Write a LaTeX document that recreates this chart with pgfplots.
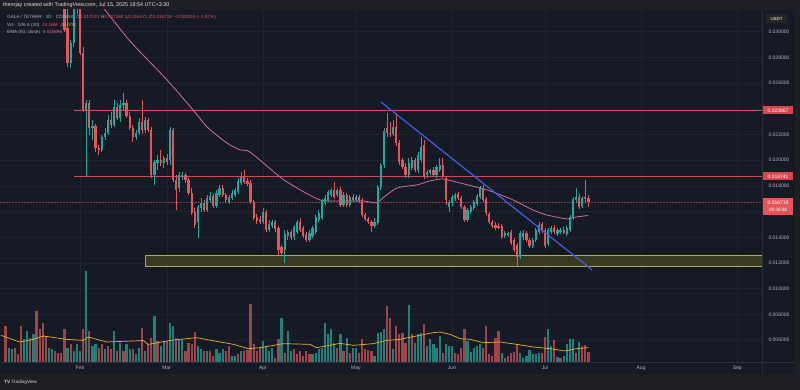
\documentclass[border=0pt]{standalone}
\usepackage{pgfplots}
\pgfplotsset{compat=1.18}
\usepackage{pgfplotstable}
\usepackage{fontspec}
\setmainfont{Liberation Sans}
\definecolor{outerbg}{HTML}{1E1F23}
\definecolor{panel}{HTML}{161A25}
\definecolor{gridc}{HTML}{1F2331}
\definecolor{sepc}{HTML}{2A2E39}
\definecolor{upc}{HTML}{26A69A}
\definecolor{downc}{HTML}{E5555A}
\definecolor{vup}{HTML}{22807A}
\definecolor{vdown}{HTML}{A0434A}
\definecolor{emac}{HTML}{D46A9F}
\definecolor{vmac}{HTML}{E8B030}
\definecolor{hlinec}{HTML}{CC4A55}
\definecolor{trendc}{HTML}{3D5FE0}
\definecolor{bandfill}{HTML}{3A3A20}
\definecolor{bandline}{HTML}{B0A85C}
\definecolor{txt}{HTML}{B2B5BE}
\definecolor{boxred}{HTML}{D8454F}

\pgfplotstableread{
d o h l c
7 0.0395 0.0410 0.0385 0.0390
8 0.0390 0.0398 0.0370 0.0375
9 0.0375 0.0392 0.0372 0.0388
10 0.0388 0.0395 0.0380 0.0392
11 0.0392 0.0395 0.0368 0.0372
12 0.0372 0.0378 0.0355 0.0360
13 0.0360 0.0365 0.0340 0.0345
14 0.0345 0.0362 0.0342 0.0358
15 0.0358 0.0375 0.0355 0.0370
16 0.0370 0.0372 0.0352 0.0356
17 0.0356 0.0368 0.0350 0.0364
18 0.0364 0.0366 0.0340 0.0345
19 0.0345 0.0350 0.0330 0.0336
20 0.0336 0.0342 0.0325 0.0330
21 0.0330 0.0338 0.0322 0.0335
22 0.0335 0.0350 0.0332 0.0346
23 0.0346 0.0352 0.0336 0.0340
24 0.0340 0.0345 0.0326 0.0330
25 0.0330 0.0336 0.0318 0.0324
26 0.03240 0.03260 0.02998 0.03014
27 0.03029 0.03208 0.02726 0.02757
28 0.02757 0.02936 0.02718 0.02912
29 0.02912 0.03247 0.02881 0.03185
30 0.03185 0.03309 0.03138 0.03247
31 0.03247 0.03286 0.02819 0.02835
32 0.02835 0.02881 0.02376 0.02391
33 0.02391 0.02469 0.01878 0.02446
34 0.02446 0.02469 0.02197 0.02251
35 0.02251 0.02313 0.02158 0.02267
36 0.02267 0.02282 0.02064 0.02096
37 0.02096 0.02119 0.02041 0.02080
38 0.02080 0.02197 0.02064 0.02181
39 0.02181 0.02251 0.02158 0.02212
40 0.02212 0.02352 0.02197 0.02313
41 0.02313 0.02376 0.02251 0.02275
42 0.02275 0.02469 0.02259 0.02415
43 0.02415 0.02446 0.02313 0.02329
44 0.02329 0.02469 0.02298 0.02430
45 0.02430 0.02523 0.02391 0.02446
46 0.02446 0.02469 0.02329 0.02345
47 0.02345 0.02376 0.02236 0.02251
48 0.02251 0.02275 0.02142 0.02181
49 0.02181 0.02236 0.02158 0.02212
50 0.02212 0.02329 0.02197 0.02298
51 0.02298 0.02469 0.02205 0.02236
52 0.02236 0.02337 0.02212 0.02313
53 0.02313 0.02329 0.02220 0.02236
54 0.02236 0.02259 0.01862 0.01886
55 0.01886 0.02002 0.01808 0.01987
56 0.01979 0.02041 0.01924 0.02002
57 0.02002 0.02080 0.01956 0.01979
58 0.01979 0.02033 0.01940 0.02018
59 0.02018 0.02049 0.01963 0.01987
60 0.02002 0.02259 0.01963 0.02236
61 0.02236 0.02251 0.01831 0.01847
62 0.01847 0.01886 0.01613 0.01769
63 0.01784 0.01909 0.01753 0.01886
64 0.01870 0.01909 0.01847 0.01886
65 0.01886 0.01901 0.01823 0.01847
66 0.01847 0.01862 0.01730 0.01745
67 0.01745 0.01784 0.01574 0.01590
68 0.01598 0.01629 0.01473 0.01497
69 0.01520 0.01652 0.01395 0.01637
70 0.01629 0.01707 0.01598 0.01668
71 0.01668 0.01691 0.01598 0.01613
72 0.01613 0.01730 0.01598 0.01707
73 0.01691 0.01753 0.01668 0.01722
74 0.01722 0.01738 0.01629 0.01644
75 0.01644 0.01769 0.01629 0.01745
76 0.01730 0.01808 0.01714 0.01784
77 0.01784 0.01808 0.01714 0.01730
78 0.01730 0.01745 0.01668 0.01691
79 0.01675 0.01730 0.01660 0.01714
80 0.01707 0.01769 0.01691 0.01745
81 0.01730 0.01784 0.01714 0.01769
82 0.01753 0.01862 0.01738 0.01839
83 0.01823 0.01909 0.01808 0.01870
84 0.01870 0.01924 0.01816 0.01831
85 0.01839 0.01862 0.01800 0.01816
86 0.01823 0.01847 0.01660 0.01675
87 0.01675 0.01691 0.01535 0.01551
88 0.01559 0.01582 0.01504 0.01528
89 0.01543 0.01567 0.01504 0.01520
90 0.01520 0.01629 0.01504 0.01598
91 0.01598 0.01613 0.01442 0.01457
92 0.01457 0.01535 0.01442 0.01504
93 0.01489 0.01535 0.01473 0.01520
94 0.01520 0.01535 0.01442 0.01465
95 0.01473 0.01489 0.01263 0.01302
96 0.01325 0.01341 0.01256 0.01279
97 0.01302 0.01457 0.01201 0.01426
98 0.01411 0.01457 0.01380 0.01442
99 0.01442 0.01457 0.01380 0.01395
100 0.01403 0.01497 0.01380 0.01481
101 0.01442 0.01535 0.01426 0.01520
102 0.01520 0.01551 0.01442 0.01457
103 0.01473 0.01489 0.01395 0.01411
104 0.01426 0.01442 0.01364 0.01380
105 0.01380 0.01457 0.01364 0.01434
106 0.01411 0.01489 0.01395 0.01473
107 0.01442 0.01574 0.01426 0.01559
108 0.01535 0.01613 0.01520 0.01590
109 0.01551 0.01699 0.01535 0.01683
110 0.01668 0.01730 0.01652 0.01707
111 0.01691 0.01769 0.01675 0.01753
112 0.01730 0.01784 0.01714 0.01769
113 0.01769 0.01831 0.01699 0.01714
114 0.01730 0.01784 0.01714 0.01769
115 0.01769 0.01792 0.01637 0.01652
116 0.01652 0.01753 0.01637 0.01730
117 0.01730 0.01745 0.01637 0.01652
118 0.01652 0.01730 0.01637 0.01714
119 0.01714 0.01738 0.01675 0.01691
120 0.01691 0.01730 0.01675 0.01714
121 0.01714 0.01730 0.01668 0.01691
122 0.01691 0.01707 0.01559 0.01574
123 0.01574 0.01590 0.01528 0.01543
124 0.01543 0.01559 0.01504 0.01520
125 0.01520 0.01535 0.01442 0.01489
126 0.01489 0.01551 0.01473 0.01520
127 0.01512 0.01808 0.01497 0.01792
128 0.01792 0.01979 0.01769 0.01963
129 0.01963 0.02251 0.01940 0.02228
130 0.02251 0.02368 0.02181 0.02212
131 0.02212 0.02298 0.02181 0.02205
132 0.02205 0.02313 0.02189 0.02259
133 0.02259 0.02368 0.02111 0.02134
134 0.02134 0.02158 0.01963 0.01987
135 0.02002 0.02018 0.01932 0.01948
136 0.01948 0.01979 0.01862 0.01886
137 0.01886 0.02018 0.01862 0.01979
138 0.01940 0.02026 0.01924 0.02002
139 0.02002 0.02018 0.01909 0.01924
140 0.01924 0.02064 0.01901 0.02041
141 0.02002 0.02181 0.01987 0.02103
142 0.02119 0.02158 0.01854 0.01870
143 0.01886 0.01924 0.01862 0.01909
144 0.01901 0.01932 0.01886 0.01924
145 0.01924 0.01948 0.01870 0.01886
146 0.01886 0.01963 0.01862 0.01948
147 0.01924 0.02018 0.01909 0.01963
148 0.01963 0.02018 0.01862 0.01870
149 0.01862 0.01878 0.01652 0.01691
150 0.01637 0.01691 0.01598 0.01675
151 0.01668 0.01730 0.01644 0.01714
152 0.01699 0.01745 0.01683 0.01730
153 0.01738 0.01753 0.01691 0.01707
154 0.01707 0.01722 0.01621 0.01637
155 0.01637 0.01652 0.01520 0.01535
156 0.01535 0.01629 0.01520 0.01613
157 0.01598 0.01652 0.01582 0.01637
158 0.01629 0.01691 0.01613 0.01675
159 0.01660 0.01738 0.01644 0.01722
160 0.01714 0.01800 0.01699 0.01784
161 0.01784 0.01808 0.01675 0.01691
162 0.01699 0.01714 0.01574 0.01590
163 0.01582 0.01598 0.01504 0.01520
164 0.01520 0.01535 0.01473 0.01489
165 0.01497 0.01520 0.01457 0.01473
166 0.01489 0.01512 0.01465 0.01473
167 0.01489 0.01504 0.01388 0.01403
168 0.01411 0.01450 0.01395 0.01434
169 0.01419 0.01442 0.01403 0.01434
170 0.01442 0.01457 0.01341 0.01356
171 0.01380 0.01395 0.01287 0.01302
172 0.01341 0.01356 0.01178 0.01248
173 0.01248 0.01450 0.01232 0.01434
174 0.01403 0.01457 0.01380 0.01434
175 0.01434 0.01450 0.01364 0.01380
176 0.01380 0.01395 0.01318 0.01333
177 0.01333 0.01395 0.01318 0.01380
178 0.01380 0.01473 0.01364 0.01457
179 0.01442 0.01520 0.01426 0.01497
180 0.01504 0.01520 0.01434 0.01450
181 0.01457 0.01473 0.01318 0.01333
182 0.01349 0.01473 0.01333 0.01457
183 0.01442 0.01489 0.01426 0.01473
184 0.01473 0.01497 0.01426 0.01442
185 0.01426 0.01473 0.01411 0.01457
186 0.01442 0.01473 0.01426 0.01457
187 0.01457 0.01481 0.01426 0.01434
188 0.01426 0.01489 0.01411 0.01473
189 0.01457 0.01574 0.01442 0.01559
190 0.01551 0.01714 0.01535 0.01699
191 0.01691 0.01784 0.01668 0.01714
192 0.01714 0.01738 0.01621 0.01637
193 0.01644 0.01722 0.01629 0.01707
194 0.01714 0.01847 0.01668 0.01699
195 0.017033 0.017284 0.016371 0.016719
}\candles

\pgfplotstableread{
d v u
7 50.4 0
8 20.1 1
9 17.7 1
10 20.1 0
11 10.7 0
12 50.4 0
13 31.7 1
14 43.4 1
15 34.1 0
16 38.7 1
17 71.4 0
18 45.7 0
19 55.1 0
20 36.4 0
21 20.1 1
22 17.7 1
23 15.4 0
24 13.1 0
25 13.1 0
26 46.7 0
27 20.1 1
28 24.7 0
29 15.4 1
30 24.7 1
31 15.4 1
32 45.7 0
33 127 1
34 43.4 0
35 22.4 1
36 24.7 1
37 20.0 0
38 24.7 0
39 17.7 1
40 22.4 0
41 17.7 0
42 43.4 1
43 15.4 0
44 27.1 1
45 15.4 0
46 24.7 1
47 17.7 1
48 17.7 0
49 10.7 1
50 20.1 1
51 48.1 0
52 15.4 1
53 24.7 0
54 34.1 0
55 64.4 1
56 29.4 0
57 22.4 1
58 29.4 1
59 29.4 0
60 55.1 1
61 50.4 1
62 34.1 0
63 31.7 1
64 31.7 1
65 15.4 0
66 27.1 0
67 24.7 0
68 42.0 0
69 22.4 1
70 17.7 1
71 15.4 0
72 15.4 1
73 15.4 0
74 8.4 0
75 17.7 1
76 13.1 1
77 17.7 1
78 15.4 0
79 22.4 0
80 8.4 1
81 8.4 1
82 10.7 0
83 15.4 1
84 15.4 0
85 16.8 0
86 80.7 0
87 24.7 0
88 15.4 0
89 20.1 0
90 29.4 1
91 22.4 1
92 15.4 1
93 20.1 1
94 6.1 0
95 31.7 0
96 62.1 1
97 13.1 0
98 43.4 1
99 15.4 1
100 17.7 0
101 10.7 0
102 15.4 0
103 8.4 0
104 15.4 0
105 10.7 0
106 10.7 1
107 13.1 1
108 17.7 1
109 20.1 1
110 55.1 1
111 38.7 1
112 45.7 1
113 27.1 1
114 20.1 0
115 38.7 1
116 15.4 0
117 34.1 1
118 13.1 0
119 20.1 1
120 20.1 1
121 13.1 0
122 32.7 0
123 17.7 0
124 16.8 0
125 15.4 0
126 8.4 1
127 41.1 1
128 42.0 1
129 46.7 1
130 78.4 0
131 62.1 0
132 17.7 1
133 50.4 0
134 38.7 0
135 41.1 0
136 27.1 0
137 79.3 1
138 38.7 0
139 27.1 1
140 38.7 1
141 41.1 1
142 52.7 0
143 22.4 1
144 31.7 1
145 24.7 1
146 20.1 1
147 36.4 1
148 13.1 0
149 24.7 1
150 22.4 1
151 22.4 1
152 13.1 0
153 10.7 0
154 20.1 0
155 46.7 0
156 29.4 1
157 14.0 1
158 20.1 1
159 22.4 1
160 24.7 1
161 20.1 0
162 50.4 0
163 10.7 0
164 8.4 0
165 34.1 0
166 43.4 0
167 12.1 1
168 6.1 0
169 8.4 0
170 12.1 0
171 14.0 0
172 24.7 0
173 13.1 1
174 6.1 1
175 8.4 1
176 16.8 1
177 10.7 1
178 10.7 1
179 13.1 1
180 13.1 0
181 35.5 0
182 45.7 1
183 22.4 1
184 30.8 0
185 7.5 1
186 6.1 0
187 8.4 1
188 24.7 1
189 32.7 1
190 31.7 1
191 13.1 0
192 28.0 1
193 22.4 0
194 23.3 0
195 14.16 0
}\vols

\begin{document}
\begin{tikzpicture}
\useasboundingbox (0pt,0pt) rectangle (800pt,390pt);
\fill[outerbg] (0pt,0pt) rectangle (800pt,390pt);
\fill[panel] (0pt,16pt) rectangle (795pt,380pt);

\begin{axis}[
  at={(0pt,28pt)}, anchor=south west,
  scale only axis, width=762pt, height=352pt,
  xmin=5.194, xmax=251.0, ymin=0.0043, ymax=0.03169,
  axis line style={draw=none},
  major tick length=0pt, tick style={draw=none},
  xtick={31,59,90,120,151,181,212,243},
  xticklabels={Feb,Mar,Apr,May,Jun,Jul,Aug,Sep},
  xticklabel style={font=\fontsize{5}{6}\selectfont, text=txt, anchor=center, yshift=-6pt},
  ytick={0.006,0.008,0.010,0.012,0.014,0.016,0.018,0.020,0.022,0.024,0.026,0.028,0.030},
  yticklabels={0.006000,0.008000,0.010000,0.012000,0.014000,{},0.018000,0.020000,0.022000,{},0.026000,0.028000,0.030000},
  yticklabel pos=right,
  yticklabel style={font=\fontsize{5}{6}\selectfont, text=txt, anchor=west, xshift=3pt},
  grid=major, grid style={gridc, line width=0.5pt},
  clip=true,
]
% support band
\addplot[fill=bandfill, draw=bandline, line width=0.7pt] coordinates {(52.0,0.01178) (252,0.01178) (252,0.01256) (52.0,0.01256) (52.0,0.01178)};
% horizontal levels
\addplot[hlinec, line width=0.8pt] coordinates {(29.2,0.023867) (252,0.023867)};
\addplot[hlinec, line width=0.8pt] coordinates {(29.2,0.018741) (252,0.018741)};
% current price line
\addplot[downc, line width=0.4pt, dash pattern=on 1.5pt off 1.5pt, opacity=0.55] coordinates {(5.194,0.016719) (252,0.016719)};
% EMA 50
\addplot[emac, line width=0.8pt, smooth, tension=0.4] coordinates {
(34.2,0.03403) (37.5,0.03224) (39.1,0.03169) (46.8,0.02936) (52.9,0.02780) (59.1,0.02624)
(67.5,0.02391) (72.0,0.02259) (78.4,0.02134) (82.6,0.02080) (85.8,0.02064) (95.5,0.01870)
(101.0,0.01784) (108.4,0.01691) (114.9,0.01683) (122.3,0.01683) (126.8,0.01668) (128.7,0.01707)
(133.3,0.01784) (139.7,0.01808) (143.9,0.01839) (148.1,0.01854) (153.6,0.01823) (162.3,0.01769)
(170.7,0.01691) (177.1,0.01613) (181.6,0.01574) (188.1,0.01543) (191.3,0.01559) (194.9,0.01570)};
% wicks
\addplot[draw=none, mark=none, error bars/.cd, y dir=plus, y explicit, error mark=none,
  error bar style={draw=downc, line width=0.6pt}]
  table[x=d, y=l, y error plus expr={(\thisrow{h}-\thisrow{l})*(\thisrow{c}<\thisrow{o})}] {\candles};
\addplot[draw=none, mark=none, error bars/.cd, y dir=plus, y explicit, error mark=none,
  error bar style={draw=upc, line width=0.6pt}]
  table[x=d, y=l, y error plus expr={(\thisrow{h}-\thisrow{l})*(1-(\thisrow{c}<\thisrow{o}))}] {\candles};
% bodies
\addplot[draw=none, mark=none, error bars/.cd, y dir=plus, y explicit, error mark=none,
  error bar style={draw=downc, line width=2.2pt}]
  table[x=d, y=c, y error plus expr={max(\thisrow{o}-\thisrow{c},0)}] {\candles};
\addplot[draw=none, mark=none, error bars/.cd, y dir=plus, y explicit, error mark=none,
  error bar style={draw=upc, line width=2.2pt}]
  table[x=d, y=o, y error plus expr={max(\thisrow{c}-\thisrow{o},0)}] {\candles};
% trend line
\addplot[trendc, line width=1.2pt] coordinates {(128.1,0.02453) (196.2,0.01146)};
\end{axis}

\begin{axis}[
  at={(0pt,28pt)}, anchor=south west,
  scale only axis, width=762pt, height=352pt,
  xmin=5.194, xmax=251.0, ymin=0, ymax=493,
  hide axis, clip=true,
]
\addplot[ycomb, draw=vup, line width=2.2pt] table[x=d, y expr={\thisrow{v}*\thisrow{u}}] {\vols};
\addplot[ycomb, draw=vdown, line width=2.2pt] table[x=d, y expr={\thisrow{v}*(1-\thisrow{u})}] {\vols};
\addplot[vmac, line width=0.7pt] coordinates {
(5.5,37.3) (11.6,28) (15.9,31.7) (19.2,36.4) (26.7,31.7) (32.1,30.3) (33.7,35) (39.6,28)
(51.4,30) (53,24.7) (61.1,30.8) (68.6,34) (80.5,24.7) (85.3,18.7) (89.1,20) (96.6,25.7)
(105.2,24.7) (107.3,20) (114.9,26.1) (119.2,23.3) (125.6,25.7) (129.9,30.3) (134.2,31.7)
(138.5,35.5) (145,41.1) (147.1,42) (150.4,38.7) (153.6,32.7) (156.8,31.7) (161.1,27.1)
(166.5,28) (171.9,24.7) (177.2,21) (182.6,18.7) (187.5,15.4) (191.2,18.7) (195,20.07)};
\end{axis}

% separators
\draw[sepc, line width=0.6pt] (762.5pt,16pt) -- (762.5pt,380pt);
\draw[sepc, line width=0.6pt] (0pt,28pt) -- (795pt,28pt);

% price labels
\fill[boxred] (763pt,275.5pt) rectangle (793pt,283.5pt);
\node[text=white, font=\fontsize{5}{6}\selectfont] at (778pt,279.5pt) {0.023867};
\fill[boxred] (763pt,209.6pt) rectangle (793pt,217.6pt);
\node[text=white, font=\fontsize{5}{6}\selectfont] at (778pt,213.6pt) {0.018741};
\fill[downc] (763pt,175pt) rectangle (793pt,192pt);
\node[text=white, font=\fontsize{5}{6}\selectfont] at (778pt,187.6pt) {0.016719};
\node[text=white, font=\fontsize{4.6}{5}\selectfont] at (778pt,180pt) {05:35:58};
\fill[black!85] (766pt,366.5pt) rectangle (787pt,375.5pt);
\node[text=white, font=\fontsize{4.4}{5}\selectfont] at (776.5pt,371pt) {USDT};

% header
\node[anchor=west, text=white!88!black, font=\fontsize{5.4}{6}\selectfont, inner sep=0pt] at (3pt,385pt)
  {thenrjay created with TradingView.com, Jul 15, 2025 18:54 UTC+3:30};

% legend
\node[anchor=west, inner sep=0pt, font=\fontsize{4.6}{5.5}\selectfont] at (7pt,373pt)
  {\color{txt}GALA / TETHER · 1D · COINEX\hspace{3pt}O\color{downc}0.017033\hspace{2pt}\color{txt}H\color{downc}0.017284\hspace{2pt}\color{txt}L\color{downc}0.016371\hspace{2pt}\color{txt}C\color{downc}0.016719\hspace{2pt}−0.000318 (−1.87\%)};
\node[anchor=west, inner sep=0pt, font=\fontsize{4.6}{5.5}\selectfont] at (7pt,365pt)
  {\color{txt}Vol · GALA (20)\hspace{3pt}\color{downc}14.16M\hspace{3pt}\color{vmac}20.07M};
\node[anchor=west, inner sep=0pt, font=\fontsize{4.6}{5.5}\selectfont] at (7pt,357.5pt)
  {\color{txt}EMA (50, close)\hspace{3pt}\color{emac}0.015696};

% footer logo
\node[anchor=west, inner sep=0pt, text=white!85!black, font=\fontsize{4.6}{5.5}\selectfont] at (4pt,8pt)
  {\textbf{TV}\hspace{1.5pt}TradingView};
\end{tikzpicture}
\end{document}
